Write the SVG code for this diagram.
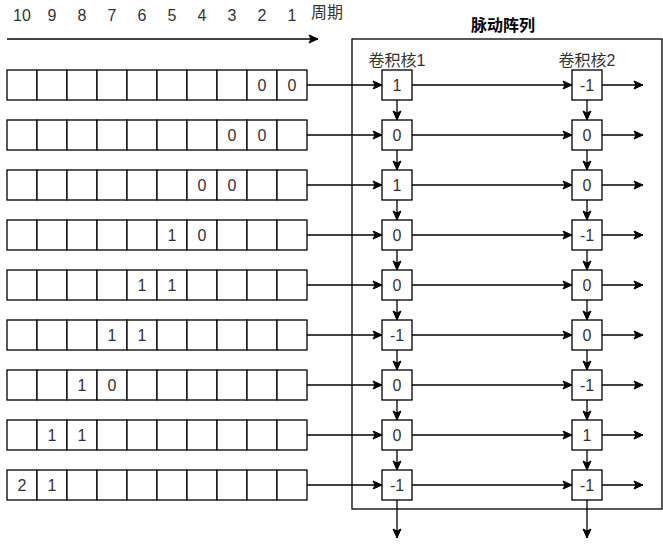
<svg xmlns="http://www.w3.org/2000/svg" width="663" height="550" viewBox="0 0 663 550">
<style>
.cell{fill:#fff;stroke:#000;stroke-width:1.3}
.node{fill:#fff;stroke:#000;stroke-width:1.3}
.t{font-family:"Liberation Sans","Noto Sans CJK SC",sans-serif;font-size:16px;fill:#333;text-anchor:middle}
.cjk{font-family:"Liberation Sans","Noto Sans CJK SC",sans-serif;font-size:16px;fill:#333}
.title{font-family:"Liberation Sans","Noto Sans CJK SC",sans-serif;font-size:16px;font-weight:bold;fill:#000;text-anchor:middle}
.ln{fill:none;stroke:#000;stroke-width:1.3}
</style>
<defs>
<marker id="ah" markerUnits="userSpaceOnUse" markerWidth="12" markerHeight="12" viewBox="0 0 12 12" refX="10" refY="6" orient="auto">
<path d="M1,2 L10,6 L1,10 L3,6 Z" fill="#000" stroke="#000" stroke-width="1"/>
</marker>
</defs>
<g id="timeline">
<text class="t" x="22" y="21">10</text>
<text class="t" x="52" y="21">9</text>
<text class="t" x="82" y="21">8</text>
<text class="t" x="112" y="21">7</text>
<text class="t" x="142" y="21">6</text>
<text class="t" x="172" y="21">5</text>
<text class="t" x="202" y="21">4</text>
<text class="t" x="232" y="21">3</text>
<text class="t" x="262" y="21">2</text>
<text class="t" x="292" y="21">1</text>
<text class="cjk" x="311" y="18">周期</text>
<line class="ln" x1="7" y1="39" x2="318" y2="39" marker-end="url(#ah)"/>
</g>
<g id="array-frame">
<rect x="352" y="39" width="310" height="470" fill="none" stroke="#000" stroke-width="1.3"/>
<text class="title" x="503" y="31">脉动阵列</text>
<text class="t" x="397" y="66">卷积核1</text>
<text class="t" x="587" y="66">卷积核2</text>
</g>
<g id="inputs">
<g id="row1">
<rect class="cell" x="7" y="70" width="30" height="30"/><rect class="cell" x="37" y="70" width="30" height="30"/><rect class="cell" x="67" y="70" width="30" height="30"/><rect class="cell" x="97" y="70" width="30" height="30"/><rect class="cell" x="127" y="70" width="30" height="30"/><rect class="cell" x="157" y="70" width="30" height="30"/><rect class="cell" x="187" y="70" width="30" height="30"/><rect class="cell" x="217" y="70" width="30" height="30"/><rect class="cell" x="247" y="70" width="30" height="30"/><rect class="cell" x="277" y="70" width="30" height="30"/>
<text class="t" x="262" y="91">0</text><text class="t" x="292" y="91">0</text>
</g>
<g id="row2">
<rect class="cell" x="7" y="120" width="30" height="30"/><rect class="cell" x="37" y="120" width="30" height="30"/><rect class="cell" x="67" y="120" width="30" height="30"/><rect class="cell" x="97" y="120" width="30" height="30"/><rect class="cell" x="127" y="120" width="30" height="30"/><rect class="cell" x="157" y="120" width="30" height="30"/><rect class="cell" x="187" y="120" width="30" height="30"/><rect class="cell" x="217" y="120" width="30" height="30"/><rect class="cell" x="247" y="120" width="30" height="30"/><rect class="cell" x="277" y="120" width="30" height="30"/>
<text class="t" x="232" y="141">0</text><text class="t" x="262" y="141">0</text>
</g>
<g id="row3">
<rect class="cell" x="7" y="170" width="30" height="30"/><rect class="cell" x="37" y="170" width="30" height="30"/><rect class="cell" x="67" y="170" width="30" height="30"/><rect class="cell" x="97" y="170" width="30" height="30"/><rect class="cell" x="127" y="170" width="30" height="30"/><rect class="cell" x="157" y="170" width="30" height="30"/><rect class="cell" x="187" y="170" width="30" height="30"/><rect class="cell" x="217" y="170" width="30" height="30"/><rect class="cell" x="247" y="170" width="30" height="30"/><rect class="cell" x="277" y="170" width="30" height="30"/>
<text class="t" x="202" y="191">0</text><text class="t" x="232" y="191">0</text>
</g>
<g id="row4">
<rect class="cell" x="7" y="220" width="30" height="30"/><rect class="cell" x="37" y="220" width="30" height="30"/><rect class="cell" x="67" y="220" width="30" height="30"/><rect class="cell" x="97" y="220" width="30" height="30"/><rect class="cell" x="127" y="220" width="30" height="30"/><rect class="cell" x="157" y="220" width="30" height="30"/><rect class="cell" x="187" y="220" width="30" height="30"/><rect class="cell" x="217" y="220" width="30" height="30"/><rect class="cell" x="247" y="220" width="30" height="30"/><rect class="cell" x="277" y="220" width="30" height="30"/>
<text class="t" x="172" y="241">1</text><text class="t" x="202" y="241">0</text>
</g>
<g id="row5">
<rect class="cell" x="7" y="270" width="30" height="30"/><rect class="cell" x="37" y="270" width="30" height="30"/><rect class="cell" x="67" y="270" width="30" height="30"/><rect class="cell" x="97" y="270" width="30" height="30"/><rect class="cell" x="127" y="270" width="30" height="30"/><rect class="cell" x="157" y="270" width="30" height="30"/><rect class="cell" x="187" y="270" width="30" height="30"/><rect class="cell" x="217" y="270" width="30" height="30"/><rect class="cell" x="247" y="270" width="30" height="30"/><rect class="cell" x="277" y="270" width="30" height="30"/>
<text class="t" x="142" y="291">1</text><text class="t" x="172" y="291">1</text>
</g>
<g id="row6">
<rect class="cell" x="7" y="320" width="30" height="30"/><rect class="cell" x="37" y="320" width="30" height="30"/><rect class="cell" x="67" y="320" width="30" height="30"/><rect class="cell" x="97" y="320" width="30" height="30"/><rect class="cell" x="127" y="320" width="30" height="30"/><rect class="cell" x="157" y="320" width="30" height="30"/><rect class="cell" x="187" y="320" width="30" height="30"/><rect class="cell" x="217" y="320" width="30" height="30"/><rect class="cell" x="247" y="320" width="30" height="30"/><rect class="cell" x="277" y="320" width="30" height="30"/>
<text class="t" x="112" y="341">1</text><text class="t" x="142" y="341">1</text>
</g>
<g id="row7">
<rect class="cell" x="7" y="370" width="30" height="30"/><rect class="cell" x="37" y="370" width="30" height="30"/><rect class="cell" x="67" y="370" width="30" height="30"/><rect class="cell" x="97" y="370" width="30" height="30"/><rect class="cell" x="127" y="370" width="30" height="30"/><rect class="cell" x="157" y="370" width="30" height="30"/><rect class="cell" x="187" y="370" width="30" height="30"/><rect class="cell" x="217" y="370" width="30" height="30"/><rect class="cell" x="247" y="370" width="30" height="30"/><rect class="cell" x="277" y="370" width="30" height="30"/>
<text class="t" x="82" y="391">1</text><text class="t" x="112" y="391">0</text>
</g>
<g id="row8">
<rect class="cell" x="7" y="420" width="30" height="30"/><rect class="cell" x="37" y="420" width="30" height="30"/><rect class="cell" x="67" y="420" width="30" height="30"/><rect class="cell" x="97" y="420" width="30" height="30"/><rect class="cell" x="127" y="420" width="30" height="30"/><rect class="cell" x="157" y="420" width="30" height="30"/><rect class="cell" x="187" y="420" width="30" height="30"/><rect class="cell" x="217" y="420" width="30" height="30"/><rect class="cell" x="247" y="420" width="30" height="30"/><rect class="cell" x="277" y="420" width="30" height="30"/>
<text class="t" x="52" y="441">1</text><text class="t" x="82" y="441">1</text>
</g>
<g id="row9">
<rect class="cell" x="7" y="470" width="30" height="30"/><rect class="cell" x="37" y="470" width="30" height="30"/><rect class="cell" x="67" y="470" width="30" height="30"/><rect class="cell" x="97" y="470" width="30" height="30"/><rect class="cell" x="127" y="470" width="30" height="30"/><rect class="cell" x="157" y="470" width="30" height="30"/><rect class="cell" x="187" y="470" width="30" height="30"/><rect class="cell" x="217" y="470" width="30" height="30"/><rect class="cell" x="247" y="470" width="30" height="30"/><rect class="cell" x="277" y="470" width="30" height="30"/>
<text class="t" x="22" y="491">2</text><text class="t" x="52" y="491">1</text>
</g>
</g>
<g id="connectors">
<line class="ln" x1="307" y1="85" x2="382" y2="85" marker-end="url(#ah)"/>
<line class="ln" x1="307" y1="135" x2="382" y2="135" marker-end="url(#ah)"/>
<line class="ln" x1="307" y1="185" x2="382" y2="185" marker-end="url(#ah)"/>
<line class="ln" x1="307" y1="235" x2="382" y2="235" marker-end="url(#ah)"/>
<line class="ln" x1="307" y1="285" x2="382" y2="285" marker-end="url(#ah)"/>
<line class="ln" x1="307" y1="335" x2="382" y2="335" marker-end="url(#ah)"/>
<line class="ln" x1="307" y1="385" x2="382" y2="385" marker-end="url(#ah)"/>
<line class="ln" x1="307" y1="435" x2="382" y2="435" marker-end="url(#ah)"/>
<line class="ln" x1="307" y1="485" x2="382" y2="485" marker-end="url(#ah)"/>
<line class="ln" x1="412" y1="85" x2="572" y2="85" marker-end="url(#ah)"/>
<line class="ln" x1="412" y1="135" x2="572" y2="135" marker-end="url(#ah)"/>
<line class="ln" x1="412" y1="185" x2="572" y2="185" marker-end="url(#ah)"/>
<line class="ln" x1="412" y1="235" x2="572" y2="235" marker-end="url(#ah)"/>
<line class="ln" x1="412" y1="285" x2="572" y2="285" marker-end="url(#ah)"/>
<line class="ln" x1="412" y1="335" x2="572" y2="335" marker-end="url(#ah)"/>
<line class="ln" x1="412" y1="385" x2="572" y2="385" marker-end="url(#ah)"/>
<line class="ln" x1="412" y1="435" x2="572" y2="435" marker-end="url(#ah)"/>
<line class="ln" x1="412" y1="485" x2="572" y2="485" marker-end="url(#ah)"/>
<line class="ln" x1="602" y1="85" x2="643" y2="85" marker-end="url(#ah)"/>
<line class="ln" x1="602" y1="135" x2="643" y2="135" marker-end="url(#ah)"/>
<line class="ln" x1="602" y1="185" x2="643" y2="185" marker-end="url(#ah)"/>
<line class="ln" x1="602" y1="235" x2="643" y2="235" marker-end="url(#ah)"/>
<line class="ln" x1="602" y1="285" x2="643" y2="285" marker-end="url(#ah)"/>
<line class="ln" x1="602" y1="335" x2="643" y2="335" marker-end="url(#ah)"/>
<line class="ln" x1="602" y1="385" x2="643" y2="385" marker-end="url(#ah)"/>
<line class="ln" x1="602" y1="435" x2="643" y2="435" marker-end="url(#ah)"/>
<line class="ln" x1="602" y1="485" x2="643" y2="485" marker-end="url(#ah)"/>
<line class="ln" x1="397" y1="100" x2="397" y2="120" marker-end="url(#ah)"/>
<line class="ln" x1="397" y1="150" x2="397" y2="170" marker-end="url(#ah)"/>
<line class="ln" x1="397" y1="200" x2="397" y2="220" marker-end="url(#ah)"/>
<line class="ln" x1="397" y1="250" x2="397" y2="270" marker-end="url(#ah)"/>
<line class="ln" x1="397" y1="300" x2="397" y2="320" marker-end="url(#ah)"/>
<line class="ln" x1="397" y1="350" x2="397" y2="370" marker-end="url(#ah)"/>
<line class="ln" x1="397" y1="400" x2="397" y2="420" marker-end="url(#ah)"/>
<line class="ln" x1="397" y1="450" x2="397" y2="470" marker-end="url(#ah)"/>
<line class="ln" x1="397" y1="500" x2="397" y2="538" marker-end="url(#ah)"/>
<line class="ln" x1="587" y1="100" x2="587" y2="120" marker-end="url(#ah)"/>
<line class="ln" x1="587" y1="150" x2="587" y2="170" marker-end="url(#ah)"/>
<line class="ln" x1="587" y1="200" x2="587" y2="220" marker-end="url(#ah)"/>
<line class="ln" x1="587" y1="250" x2="587" y2="270" marker-end="url(#ah)"/>
<line class="ln" x1="587" y1="300" x2="587" y2="320" marker-end="url(#ah)"/>
<line class="ln" x1="587" y1="350" x2="587" y2="370" marker-end="url(#ah)"/>
<line class="ln" x1="587" y1="400" x2="587" y2="420" marker-end="url(#ah)"/>
<line class="ln" x1="587" y1="450" x2="587" y2="470" marker-end="url(#ah)"/>
<line class="ln" x1="587" y1="500" x2="587" y2="538" marker-end="url(#ah)"/>
</g>
<g id="kernel1">
<g id="k1n1"><rect class="node" x="382" y="70" width="30" height="30"/><text class="t" x="397" y="91">1</text></g>
<g id="k1n2"><rect class="node" x="382" y="120" width="30" height="30"/><text class="t" x="397" y="141">0</text></g>
<g id="k1n3"><rect class="node" x="382" y="170" width="30" height="30"/><text class="t" x="397" y="191">1</text></g>
<g id="k1n4"><rect class="node" x="382" y="220" width="30" height="30"/><text class="t" x="397" y="241">0</text></g>
<g id="k1n5"><rect class="node" x="382" y="270" width="30" height="30"/><text class="t" x="397" y="291">0</text></g>
<g id="k1n6"><rect class="node" x="382" y="320" width="30" height="30"/><text class="t" x="397" y="341">-1</text></g>
<g id="k1n7"><rect class="node" x="382" y="370" width="30" height="30"/><text class="t" x="397" y="391">0</text></g>
<g id="k1n8"><rect class="node" x="382" y="420" width="30" height="30"/><text class="t" x="397" y="441">0</text></g>
<g id="k1n9"><rect class="node" x="382" y="470" width="30" height="30"/><text class="t" x="397" y="491">-1</text></g>
</g>
<g id="kernel2">
<g id="k2n1"><rect class="node" x="572" y="70" width="30" height="30"/><text class="t" x="587" y="91">-1</text></g>
<g id="k2n2"><rect class="node" x="572" y="120" width="30" height="30"/><text class="t" x="587" y="141">0</text></g>
<g id="k2n3"><rect class="node" x="572" y="170" width="30" height="30"/><text class="t" x="587" y="191">0</text></g>
<g id="k2n4"><rect class="node" x="572" y="220" width="30" height="30"/><text class="t" x="587" y="241">-1</text></g>
<g id="k2n5"><rect class="node" x="572" y="270" width="30" height="30"/><text class="t" x="587" y="291">0</text></g>
<g id="k2n6"><rect class="node" x="572" y="320" width="30" height="30"/><text class="t" x="587" y="341">0</text></g>
<g id="k2n7"><rect class="node" x="572" y="370" width="30" height="30"/><text class="t" x="587" y="391">-1</text></g>
<g id="k2n8"><rect class="node" x="572" y="420" width="30" height="30"/><text class="t" x="587" y="441">1</text></g>
<g id="k2n9"><rect class="node" x="572" y="470" width="30" height="30"/><text class="t" x="587" y="491">-1</text></g>
</g>
</svg>
